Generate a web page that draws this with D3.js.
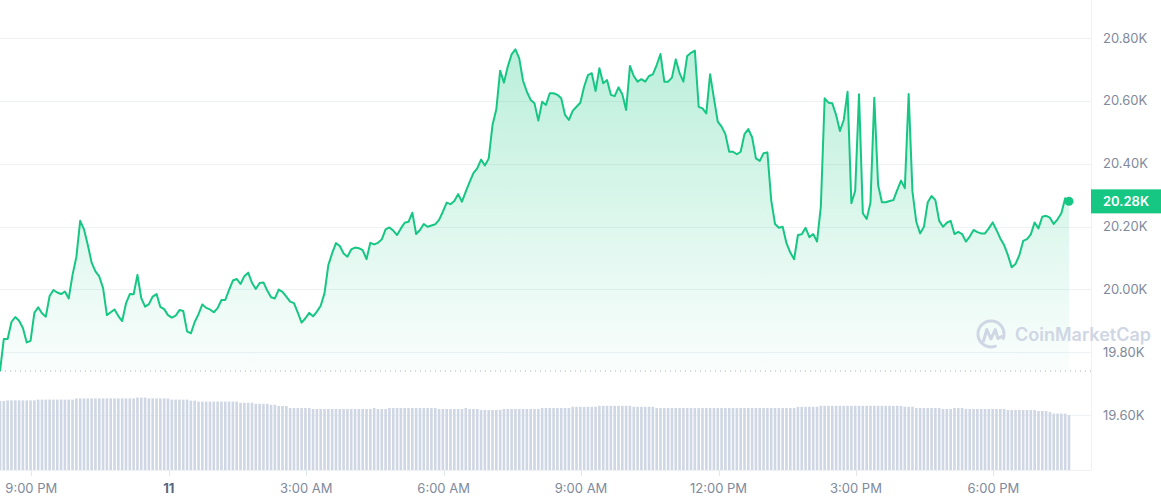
<!DOCTYPE html>
<html>
<head>
<meta charset="utf-8">
<script src="https://cdn.jsdelivr.net/npm/d3@7"></script>
<style>
  html, body { margin: 0; padding: 0; background: #fff; }
  svg { display: block; font-family: Inter, "Noto Sans", sans-serif; }
</style>
</head>
<body>
<svg id="chart" width="1161" height="500"></svg>
<script>
// price every 5 minutes, USD
const prices = [19740,19842,19842,19896,19912,19900,19877,19831,19836,19925,
 19943,19924,19913,19979,19998,19990,19985,19993,19971,20046,
 20103,20218,20191,20141,20085,20057,20041,20004,19918,19927,
 19936,19915,19899,19955,19985,19984,20046,19972,19945,19953,
 19977,19985,19944,19937,19918,19910,19916,19934,19931,19866,
 19860,19896,19921,19952,19941,19936,19927,19940,19966,19966,
 19998,20028,20033,20017,20042,20053,20021,20001,20020,20022,
 19996,19975,19971,19999,19992,19977,19961,19956,19926,19894,
 19908,19925,19914,19929,19948,19988,20077,20115,20147,20138,
 20114,20104,20127,20133,20131,20125,20096,20148,20143,20148,
 20159,20191,20197,20187,20173,20194,20212,20215,20244,20176,
 20189,20208,20199,20203,20207,20221,20247,20276,20271,20281,
 20303,20279,20311,20341,20370,20385,20413,20394,20416,20523,
 20573,20696,20658,20709,20748,20764,20735,20664,20629,20603,
 20592,20537,20597,20587,20624,20624,20619,20608,20555,20539,
 20568,20581,20594,20645,20682,20688,20631,20704,20656,20666,
 20619,20615,20643,20621,20571,20711,20679,20661,20669,20661,
 20679,20684,20714,20749,20661,20661,20674,20732,20688,20661,
 20743,20753,20760,20581,20576,20560,20685,20608,20534,20518,
 20494,20438,20438,20430,20438,20494,20510,20484,20417,20409,
 20433,20436,20284,20208,20196,20199,20147,20117,20096,20173,
 20175,20196,20166,20176,20152,20263,20608,20594,20592,20555,
 20504,20539,20629,20274,20314,20621,20242,20224,20276,20610,
 20332,20277,20277,20281,20284,20316,20346,20322,20622,20311,
 20215,20178,20199,20277,20297,20284,20218,20199,20212,20218,
 20176,20183,20176,20152,20168,20189,20182,20178,20178,20194,
 20213,20189,20162,20141,20109,20070,20081,20109,20154,20160,
 20175,20213,20194,20231,20234,20228,20208,20223,20242,20290,
 20280];

// 24h volume, billions USD
const volumes = [34.5,34.5,34.8,34.8,34.8,34.8,34.8,34.8,34.8,34.8,
 35.2,35.2,35.2,35.2,35.2,35.2,35.2,35.2,35.2,35.2,
 35.8,35.8,35.8,35.8,35.8,35.8,35.8,35.8,35.8,35.8,
 35.8,35.8,35.8,35.8,35.8,35.8,36.2,36.2,36.2,35.8,
 35.8,35.8,35.8,35.8,35.8,35.2,35.2,35.2,35.2,35.2,
 34.7,34.7,34.2,34.2,34.2,34.2,34.2,34.2,34.2,34.2,
 34.2,34.2,34.2,33.6,33.6,33.6,33.6,33.1,33.1,33.1,
 33.1,32.6,32.6,32.0,32.0,32.0,31.0,31.0,31.0,31.0,
 31.0,31.0,30.5,30.5,30.5,30.5,30.5,30.5,30.5,30.5,
 30.5,30.5,30.5,30.5,30.5,30.5,30.5,30.5,31.0,30.5,
 30.5,30.5,31.0,31.0,31.0,31.0,31.0,31.0,31.0,31.0,
 31.0,31.0,31.0,31.0,31.0,30.5,30.5,30.5,30.5,30.5,
 30.5,30.5,31.0,30.5,30.5,30.5,30.0,30.0,30.0,30.0,
 30.0,30.0,30.5,30.5,30.5,30.5,30.5,30.5,30.5,30.5,
 30.5,30.5,31.0,31.0,31.0,31.0,31.0,31.0,31.0,31.0,
 31.6,31.6,31.6,31.6,31.6,31.6,31.6,32.1,32.1,32.1,
 32.1,32.1,32.1,32.1,32.1,32.1,31.6,31.6,31.6,31.6,
 31.6,31.6,31.0,31.0,31.0,31.0,31.0,31.0,31.0,31.0,
 31.0,31.0,31.0,31.0,31.0,31.0,31.0,31.0,31.0,31.0,
 31.0,31.0,31.0,31.0,31.0,31.0,31.0,31.0,31.0,31.0,
 31.0,31.0,31.0,31.0,31.0,31.0,31.0,31.0,31.0,31.6,
 31.6,31.6,31.6,31.6,31.6,32.1,32.1,32.1,32.1,32.1,
 32.1,32.1,32.1,32.1,32.1,32.1,32.1,32.1,32.1,32.1,
 32.1,32.1,32.1,32.1,32.1,32.1,32.1,31.6,31.6,31.6,
 31.0,31.0,31.0,31.0,31.0,31.0,31.0,30.5,30.5,30.5,
 31.0,31.0,31.0,30.5,30.5,30.5,30.5,30.5,30.5,30.5,
 30.5,30.5,30.5,30.5,30.0,30.0,30.0,30.0,30.0,30.0,
 30.0,30.0,29.5,29.5,29.5,29.0,28.2,28.2,28.2,28.2,
 27.5];

const yTicks = [19600, 19800, 20000, 20200, 20400, 20600, 20800];
const startTime = Date.UTC(2022, 6, 10, 20, 19);
const stepMs = 5 * 60 * 1000;

const green = '#16c784';
const gridColor = '#eff2f5';
const labelColor = '#808a9d';

var svg = d3.select('#chart');
var plotRight = 1091, plotBottom = 470;

var data = prices.map((p, i) => ({t: new Date(startTime + i * stepMs), price: p, vol: volumes[i]}));

var x = d3.scaleUtc()
    .domain([data[0].t, data[data.length - 1].t])
    .range([0, 1069]);
var y = d3.scaleLinear()
    .domain([19600, 20800])
    .range([415, 38]);
var yVol = d3.scaleLinear()
    .domain([0, 40])
    .range([plotBottom, plotBottom - 80]);

// gradient for area
var grad = svg.append('defs').append('linearGradient')
    .attr('id', 'areaGrad')
    .attr('gradientUnits', 'userSpaceOnUse')
    .attr('x1', 0).attr('x2', 0)
    .attr('y1', y(20800)).attr('y2', y(prices[0]));
grad.append('stop').attr('offset', 0).attr('stop-color', green).attr('stop-opacity', 0.3);
grad.append('stop').attr('offset', 1).attr('stop-color', green).attr('stop-opacity', 0.02);

// grid
svg.append('g').selectAll('line')
    .data(yTicks)
    .enter().append('line')
    .attr('x1', 0).attr('x2', plotRight)
    .attr('y1', d => Math.round(y(d)) + 0.5).attr('y2', d => Math.round(y(d)) + 0.5)
    .attr('stroke', gridColor);

svg.append('line')
    .attr('x1', plotRight + 0.5).attr('x2', plotRight + 0.5)
    .attr('y1', 0).attr('y2', plotBottom)
    .attr('stroke', gridColor);
svg.append('line')
    .attr('x1', 0).attr('x2', plotRight)
    .attr('y1', plotBottom + 0.5).attr('y2', plotBottom + 0.5)
    .attr('stroke', gridColor);

// volume bars
var bw = 2.6;
svg.append('g').selectAll('rect')
    .data(data)
    .enter().append('rect')
    .attr('x', d => x(d.t) - bw / 2)
    .attr('width', bw)
    .attr('y', d => yVol(d.vol))
    .attr('height', d => plotBottom - yVol(d.vol))
    .attr('fill', '#cfd6e4');

// area + line
var area = d3.area()
    .x(d => x(d.t))
    .y0(y(prices[0]))
    .y1(d => y(d.price));
svg.append('path')
    .datum(data)
    .attr('d', area)
    .attr('fill', 'url(#areaGrad)');

// open price dotted line
svg.append('line')
    .attr('x1', 0).attr('x2', plotRight)
    .attr('y1', y(prices[0])).attr('y2', y(prices[0]))
    .attr('stroke', '#a6b0c3')
    .attr('stroke-width', 1)
    .attr('stroke-dasharray', '1,4');

var line = d3.line()
    .x(d => x(d.t))
    .y(d => y(d.price));
svg.append('path')
    .datum(data)
    .attr('d', line)
    .attr('fill', 'none')
    .attr('stroke', green)
    .attr('stroke-width', 2)
    .attr('stroke-linejoin', 'round');

var last = data[data.length - 1];
svg.append('circle')
    .attr('cx', x(last.t)).attr('cy', y(last.price))
    .attr('r', 4.5)
    .attr('fill', green);

// watermark
var wm = svg.append('g').attr('fill', 'none').attr('stroke', '#cfd6e4')
    .attr('stroke-width', 3).attr('stroke-linecap', 'round').attr('stroke-linejoin', 'round');
wm.append('path').attr('d', 'M1003.2 338.4 A13 13 0 1 0 995.4 346.2');
wm.append('path').attr('d', 'M983.5 341 L986.8 329.5 L991 339 L995.2 329.5 L998 338.5 L1001.5 336.5');
svg.append('text')
    .attr('x', 1015).attr('y', 341)
    .attr('fill', '#cfd6e4')
    .style('font-size', '18px')
    .style('font-weight', 600)
    .text('CoinMarketCap');

// y labels
svg.append('g').selectAll('text')
    .data(yTicks)
    .enter().append('text')
    .attr('x', 1103)
    .attr('y', d => y(d))
    .attr('dy', '0.35em')
    .attr('fill', labelColor)
    .style('font-size', '13px')
    .text(d => (d / 1000).toFixed(2) + 'K');

// x ticks + labels
var xTicks = x.ticks(d3.utcHour.every(3));
var fmtHour = d3.utcFormat('%-I:%M %p');
var fmtDay = d3.utcFormat('%-d');
svg.append('g').selectAll('line')
    .data(xTicks)
    .enter().append('line')
    .attr('x1', d => Math.round(x(d)) + 0.5).attr('x2', d => Math.round(x(d)) + 0.5)
    .attr('y1', plotBottom).attr('y2', plotBottom + 6)
    .attr('stroke', '#e3e7ee');
svg.append('g').selectAll('text')
    .data(xTicks)
    .enter().append('text')
    .attr('x', d => x(d))
    .attr('y', 493)
    .attr('text-anchor', 'middle')
    .attr('fill', d => d.getUTCHours() === 0 ? '#58667e' : labelColor)
    .style('font-size', '13px')
    .style('font-weight', d => d.getUTCHours() === 0 ? 700 : 400)
    .text(d => d.getUTCHours() === 0 ? fmtDay(d) : fmtHour(d));

// current price tag
var tagY = y(last.price);
svg.append('rect')
    .attr('x', plotRight).attr('y', tagY - 12)
    .attr('width', 1161 - plotRight).attr('height', 24)
    .attr('fill', green);
svg.append('text')
    .attr('x', 1103).attr('y', tagY)
    .attr('dy', '0.35em')
    .attr('fill', '#fff')
    .style('font-size', '13px')
    .style('font-weight', 600)
    .text((last.price / 1000).toFixed(2) + 'K');
</script>
</body>
</html>
